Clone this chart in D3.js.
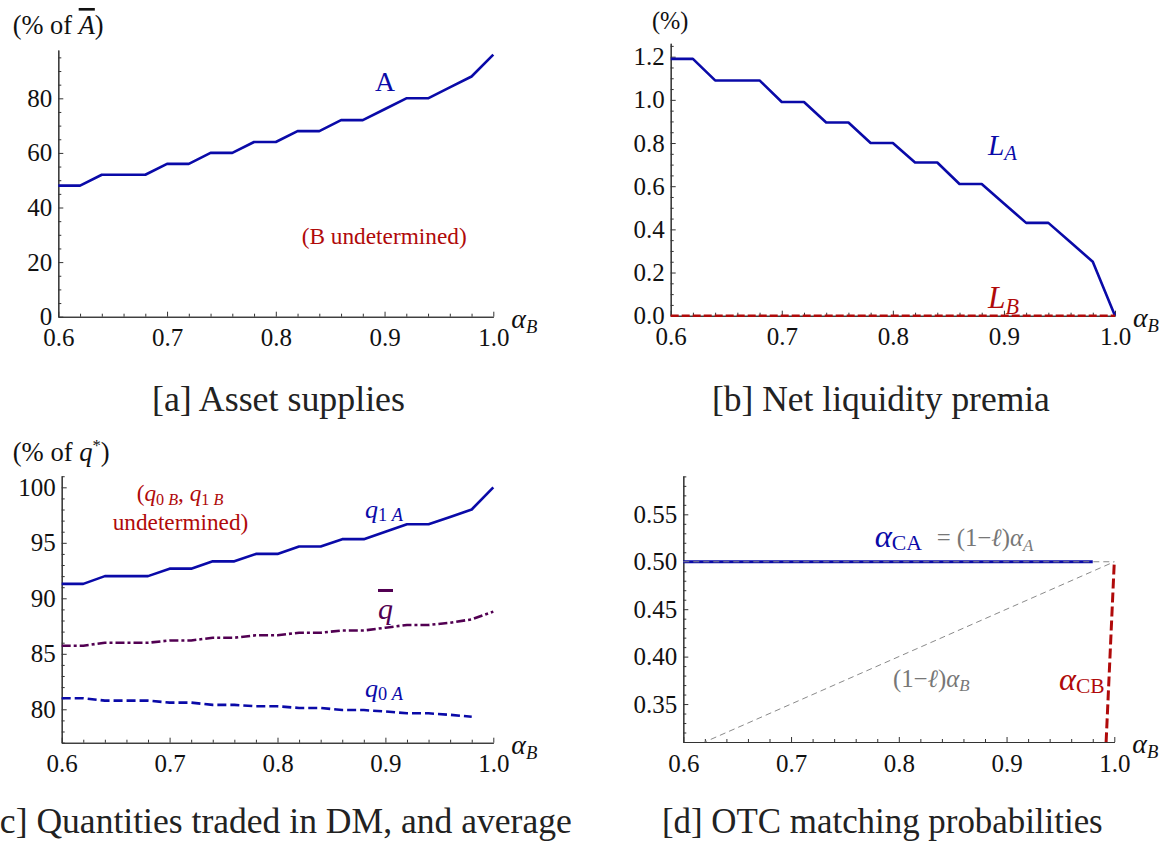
<!DOCTYPE html>
<html>
<head>
<meta charset="utf-8">
<script src="https://cdn.jsdelivr.net/npm/d3@7"></script>
<style>
  html, body { margin: 0; padding: 0; background: #fff; }
  svg { display: block; font-family: "Liberation Serif", "Times New Roman", Tinos, "Nimbus Roman", "DejaVu Serif", serif; }
</style>
</head>
<body>
<svg id="chart" width="1162" height="841"></svg>
<script>
// ---------------- DATA ----------------
const alphaB = [0.60,0.62,0.64,0.66,0.68,0.70,0.72,0.74,0.76,0.78,0.80,0.82,0.84,0.86,0.88,0.90,0.92,0.94,0.96,0.98,1.00];

// [a] Asset supplies (% of A-bar)
const supplyA = [48,48,52,52,52,56,56,60,60,64,64,68,68,72,72,76,80,80,84,88,96];

// [b] Net liquidity premia (%)
const premiumLA = [1.19,1.19,1.09,1.09,1.09,0.99,0.99,0.895,0.895,0.80,0.80,0.71,0.71,0.61,0.61,0.52,0.43,0.43,0.34,0.25,0.00];
const premiumLB = [0,0,0,0,0,0,0,0,0,0,0,0,0,0,0,0,0,0,0,0,0];

// [c] Quantities traded in DM (% of q*)
const q1A  = [91.3,91.3,92.0,92.0,92.0,92.67,92.67,93.33,93.33,94.0,94.0,94.67,94.67,95.33,95.33,96.0,96.67,96.67,97.33,98.0,100.0];
const qBar = [85.73,85.73,86.0,86.0,86.0,86.2,86.2,86.45,86.45,86.67,86.67,86.9,86.9,87.1,87.1,87.35,87.6,87.6,87.8,88.1,88.8];
const q0A  = [81.0,81.0,80.78,80.78,80.78,80.6,80.6,80.4,80.4,80.27,80.27,80.12,80.12,79.93,79.93,79.8,79.64,79.64,79.5,79.33,null];

// [d] OTC matching probabilities
const alphaCA_x = [0.60, 0.98];
const alphaCA_y = [0.50, 0.50];
const refA_x = [0.60, 1.00];          // (1-l) alpha_A
const refA_y = [0.50, 0.50];
const refB_x = [0.60, 1.00];          // (1-l) alpha_B
const refB_y = [0.30, 0.50];
const alphaCB_x = [0.98, 1.00];
const alphaCB_y = [0.00, 0.50];

// ticks
const xMajor = [0.6,0.7,0.8,0.9,1.0];
const xMinor = [0.62,0.64,0.66,0.68,0.72,0.74,0.76,0.78,0.82,0.84,0.86,0.88,0.92,0.94,0.96,0.98];
const yMajorA = [0,20,40,60,80];
const yMinorA = [5,10,15,25,30,35,45,50,55,65,70,75,85,90,95];
const yMajorB = [0,0.2,0.4,0.6,0.8,1.0,1.2];
const yMinorB = [0.05,0.1,0.15,0.25,0.3,0.35,0.45,0.5,0.55,0.65,0.7,0.75,0.85,0.9,0.95,1.05,1.1,1.15,1.25];
const yMajorC = [80,85,90,95,100];
const yMinorC = [77,78,79,81,82,83,84,86,87,88,89,91,92,93,94,96,97,98,99,101];
const yMajorD = [0.35,0.40,0.45,0.50,0.55];
const yMinorD = [0.31,0.32,0.33,0.34,0.36,0.37,0.38,0.39,0.41,0.42,0.43,0.44,0.46,0.47,0.48,0.49,0.51,0.52,0.53,0.54,0.56,0.57,0.58,0.59];

const subtitles = ["[a] Asset supplies", "[b] Net liquidity premia", "[c] Quantities traded in DM, and average", "[d] OTC matching probabilities"];

// ---------------- DRAW ----------------
const SERIF = '"Liberation Serif", "Times New Roman", Tinos, "Nimbus Roman", "DejaVu Serif", serif';
const svg = d3.select("#chart");
const BLUE = "#0a0aa8", RED = "#b00a0a", PURPLE = "#520052", GREY = "#777";

// tick-label font size fitted to the reference width of "0.6"
let TICK = 25;
{
  const p = svg.append("text").attr("font-size", 25).text("0.6");
  const w = p.node().getComputedTextLength();
  TICK = Math.min(25, 25 * 32 / w);
  p.remove();
}

// multi-part label, uniformly scaled to a target width (left, baseline anchored)
function label(x, y, width, fill, parts, anchor) {
  const t = svg.append("text").attr("x", x).attr("y", y).attr("fill", fill);
  parts.forEach(p => {
    const s = t.append("tspan").text(p.t).attr("font-size", p.s || 24);
    if (p.i) s.attr("font-style", "italic");
    if (p.dy) s.attr("dy", p.dy);
    if (p.o) s.style("text-decoration", "overline");
  });
  const w = t.node().getComputedTextLength();
  const k = width / w;
  let x0 = x;
  if (anchor === "middle") x0 = x - width / 2;
  t.attr("x", x0).attr("transform", `translate(${x0},${y}) scale(${k}) translate(${-x0},${-y})`);
  return t;
}

function panel(cfg) {
  const x = d3.scaleLinear().domain([0.6, 1.0]).range([cfg.x0, cfg.x1]);
  const y = d3.scaleLinear().domain(cfg.yDomain).range([cfg.yb, cfg.yt]);
  const g = svg.append("g");
  const axisStyle = sel => {
    sel.attr("font-family", SERIF).attr("font-size", TICK);
    sel.select(".domain").attr("stroke", "#333").attr("stroke-width", 1.1);
    sel.selectAll(".tick line").attr("stroke", "#333").attr("stroke-width", 1);
    sel.selectAll("text").attr("fill", "#111");
  };
  g.append("g").attr("transform", `translate(0,${cfg.yb})`)
    .call(d3.axisBottom(x).tickValues(xMinor).tickSize(-3).tickSizeOuter(0).tickFormat(""))
    .call(axisStyle);
  g.append("g").attr("transform", `translate(${cfg.x0},0)`)
    .call(d3.axisLeft(y).tickValues(cfg.yMinor).tickSize(-3).tickSizeOuter(0).tickFormat(""))
    .call(axisStyle);
  g.append("g").attr("transform", `translate(0,${cfg.yb})`)
    .call(d3.axisBottom(x).tickValues(xMajor).tickSize(-5).tickSizeOuter(0).tickPadding(12).tickFormat(d3.format(".1f")))
    .call(axisStyle);
  g.append("g").attr("transform", `translate(${cfg.x0},0)`)
    .call(d3.axisLeft(y).tickValues(cfg.yMajor).tickSize(-5).tickSizeOuter(0).tickPadding(6).tickFormat(cfg.yFmt))
    .call(axisStyle);
  label(cfg.x1 + 18, cfg.yb + 11, 26, "#111", [{t: "α", i: 1, s: 27}, {t: "B", i: 1, s: 18, dy: 5}]);
  const id = "clip" + cfg.id;
  svg.append("clipPath").attr("id", id).append("rect")
    .attr("x", cfg.x0 - 3).attr("y", cfg.yt - 5).attr("width", cfg.x1 - cfg.x0 + 6).attr("height", cfg.yb - cfg.yt + 5 + (cfg.clipBottom || 0));
  const plot = svg.append("g").attr("clip-path", `url(#${id})`);
  return {x, y, g, plot};
}

function series(p, xs, ys, style) {
  const pts = xs.map((d, i) => [d, ys[i]]).filter(d => d[1] !== null);
  p.plot.append("path")
    .attr("d", d3.line().x(d => p.x(d[0])).y(d => p.y(d[1]))(pts))
    .attr("fill", "none")
    .attr("stroke", style.color)
    .attr("stroke-width", style.width || 2.6)
    .attr("stroke-dasharray", style.dash || null)
    .attr("stroke-linejoin", "round");
}

// ---- Panel a ----
const pa = panel({id: "a", x0: 58.3, x1: 493.3, yb: 316.7, yt: 50, yDomain: [0, 97.7],
  yMajor: yMajorA, yMinor: yMinorA, yFmt: d3.format("d"), clipBottom: 3});
series(pa, alphaB, supplyA, {color: BLUE});
label(12.7, 34, 91, "#111", [{t: "(% of "}, {t: "A", i: 1, o: 1}, {t: ")"}]);
label(385, 91, 20, BLUE, [{t: "A", s: 27}], "middle");
label(301.7, 244, 165, RED, [{t: "(B undetermined)", s: 23}]);

// ---- Panel b ----
const pb = panel({id: "b", x0: 670.7, x1: 1115, yb: 315.7, yt: 43.3, yDomain: [0, 1.262],
  yMajor: yMajorB, yMinor: yMinorB, yFmt: d3.format(".1f"), clipBottom: 3});
series(pb, alphaB, premiumLA, {color: BLUE});
series(pb, alphaB, premiumLB, {color: RED, dash: "8,3", width: 2.6});
label(652, 29, 36.5, "#111", [{t: "(%)"}]);
label(988, 155, 29, BLUE, [{t: "L", i: 1, s: 27}, {t: "A", i: 1, s: 19, dy: 5}]);
label(988, 308, 31, RED, [{t: "L", i: 1, s: 27}, {t: "B", i: 1, s: 19, dy: 5}]);

// ---- Panel c ----
const pc = panel({id: "c", x0: 61.7, x1: 493.3, yb: 742.7, yt: 476, yDomain: [76.99, 101.02],
  yMajor: yMajorC, yMinor: yMinorC, yFmt: d3.format("d"), clipBottom: 3});
series(pc, alphaB, q1A, {color: BLUE});
series(pc, alphaB, qBar, {color: PURPLE, dash: "9,3,3,3"});
series(pc, alphaB, q0A, {color: BLUE, dash: "9,4"});
label(12.7, 461, 97, "#111", [{t: "(% of "}, {t: "q", i: 1}, {t: "*", s: 15, dy: -9}, {t: ")", dy: 9}]);
label(136.7, 501, 86.6, RED, [{t: "(", s: 23}, {t: "q", i: 1, s: 23}, {t: "0 ", s: 16, dy: 4}, {t: "B", i: 1, s: 16},
  {t: ", ", s: 23, dy: -4}, {t: "q", i: 1, s: 23}, {t: "1 ", s: 16, dy: 4}, {t: "B", i: 1, s: 16}]);
label(112.7, 530, 135.6, RED, [{t: "undetermined)", s: 23}]);
label(365, 518, 38, BLUE, [{t: "q", i: 1, s: 27}, {t: "1 ", s: 19, dy: 3}, {t: "A", i: 1, s: 19}]);
label(365, 697, 38, BLUE, [{t: "q", i: 1, s: 27}, {t: "0 ", s: 19, dy: 3}, {t: "A", i: 1, s: 19}]);
label(378, 619, 15, PURPLE, [{t: "q", i: 1, s: 27, o: 1}]);

// ---- Panel d ----
const pd = panel({id: "d", x0: 683.3, x1: 1114.3, yb: 742, yt: 476, yDomain: [0.31, 0.5904],
  yMajor: yMajorD, yMinor: yMinorD, yFmt: d3.format(".2f"), clipBottom: 0});
series(pd, alphaCA_x, alphaCA_y, {color: BLUE, width: 3.2});
series(pd, refA_x, refA_y, {color: "#8a8a8a", width: 1, dash: "6,4"});
series(pd, refB_x, refB_y, {color: "#8a8a8a", width: 1, dash: "6,4"});
series(pd, alphaCB_x, alphaCB_y, {color: RED, width: 3, dash: "10,4"});
label(874.7, 547, 47.3, BLUE, [{t: "α", i: 1, s: 33}, {t: "CA", s: 22, dy: 3}]);
label(936.7, 546, 96.7, GREY, [{t: "= (1−", s: 22}, {t: "ℓ", i: 1, s: 22}, {t: ")", s: 22}, {t: "α", i: 1, s: 22}, {t: "A", i: 1, s: 15, dy: 4}]);
label(893, 687, 76.6, GREY, [{t: "(1−", s: 22}, {t: "ℓ", i: 1, s: 22}, {t: ")", s: 22}, {t: "α", i: 1, s: 22}, {t: "B", i: 1, s: 15, dy: 4}]);
label(1059, 690, 45.6, RED, [{t: "α", i: 1, s: 33}, {t: "CB", s: 22, dy: 3}]);

// ---- Subtitles ----
const subPos = [[152, 411, 253], [712, 411, 338], [-12, 833, 584], [662, 833, 441]];
subtitles.forEach((s, i) => {
  label(subPos[i][0], subPos[i][1], subPos[i][2], "#222", [{t: s, s: 30}]);
});
</script>
</body>
</html>
